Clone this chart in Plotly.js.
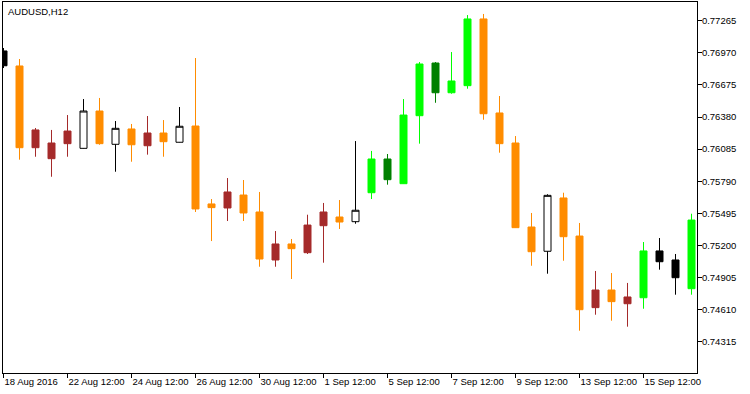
<!DOCTYPE html>
<html><head><meta charset="utf-8">
<script src="https://cdn.plot.ly/plotly-3.0.1.min.js"></script>
<style>html,body{margin:0;padding:0;background:#fff}#chart{width:750px;height:394px}</style>
</head><body><div id="chart"></div>
<script>
// AUDUSD H12 candles, index 0..43
const opens  = [0.76987,0.76849,0.76098,0.75997,0.76135,0.76092,0.76435,0.76129,0.76270,0.76116,
                0.76233,0.76148,0.76297,0.75581,0.75544,0.75663,0.75507,0.75066,0.75213,0.75133,
                0.75381,0.75461,0.75418,0.75684,0.75994,0.75767,0.76392,0.76876,0.76603,0.76668,
                0.77281,0.76417,0.76141,0.75369,0.75146,0.75636,0.75286,0.74628,0.74790,0.74664,
                0.74719,0.75149,0.75066,0.74802];
const highs  = [0.77014,0.76913,0.76279,0.76261,0.76398,0.76545,0.76555,0.76343,0.76316,0.76389,
                0.76352,0.76472,0.76922,0.75626,0.75819,0.75801,0.75691,0.75332,0.75259,0.75482,
                0.75590,0.75617,0.76159,0.76068,0.76040,0.76545,0.76885,0.76885,0.76977,0.77317,
                0.77327,0.76573,0.76205,0.75498,0.75670,0.75684,0.75406,0.74965,0.74946,0.74855,
                0.75231,0.75268,0.75121,0.75491];
const lows   = [0.76830,0.75988,0.76015,0.75831,0.76015,0.76090,0.76125,0.75877,0.75969,0.76034,
                0.76015,0.76146,0.75507,0.75240,0.75424,0.75424,0.75004,0.75004,0.74891,0.75121,
                0.75041,0.75351,0.75399,0.75626,0.75758,0.75765,0.76135,0.76511,0.76594,0.76640,
                0.76355,0.76052,0.75360,0.75013,0.74940,0.75059,0.74416,0.74563,0.74508,0.74453,
                0.74618,0.74977,0.74747,0.74747];
const closes = [0.76851,0.76098,0.76261,0.76141,0.76251,0.76435,0.76135,0.76276,0.76125,0.76233,
                0.76153,0.76295,0.75535,0.75547,0.75691,0.75498,0.75075,0.75213,0.75170,0.75387,
                0.75507,0.75415,0.75523,0.75994,0.75804,0.76398,0.76867,0.76603,0.76711,0.77281,
                0.76410,0.76135,0.75363,0.75142,0.75660,0.75280,0.74609,0.74790,0.74683,0.74726,
                0.75149,0.75050,0.74903,0.75433];
// candle state: trend + direction
const kinds = ['bearFlat','bearDown','bullDown','bullDown','bullDown','bullFlat','bearDown','bullFlat','bearDown','bullDown',
               'bearDown','bullFlat','bearDown','bearDown','bullDown','bearDown','bearDown','bullDown','bearDown','bullDown',
               'bullDown','bearDown','bullFlat','bullUp','bearUp','bullUp','bullUp','bearUp','bullUp','bullUp',
               'bearDown','bearDown','bearDown','bearDown','bullFlat','bearDown','bearDown','bullDown','bearDown','bullDown',
               'bullUp','bearFlat','bearFlat','bullUp'];
const tickIdx  = [0,4,8,12,16,20,24,28,32,36,40];
const tickText = ['18 Aug 2016','22 Aug 12:00','24 Aug 12:00','26 Aug 12:00','30 Aug 12:00','1 Sep 12:00',
                  '5 Sep 12:00','7 Sep 12:00','9 Sep 12:00','13 Sep 12:00','15 Sep 12:00'];
const priceTicks = [0.74315,0.74610,0.74905,0.75200,0.75495,0.75790,0.76085,0.76380,0.76675,0.76970,0.77265];
const symbolTitle = 'AUDUSD,H12';

const styles = {
  bearDown: {fill:'#FF8C00', line:'#FF8C00'},
  bullDown: {fill:'#A52A2A', line:'#A52A2A'},
  bullUp:   {fill:'#00FF00', line:'#00FF00'},
  bearUp:   {fill:'#008000', line:'#008000'},
  bullFlat: {fill:'#FFFFFF', line:'#000000'},
  bearFlat: {fill:'#000000', line:'#000000'}
};

const traces = Object.keys(styles).map(k => {
  const idx = kinds.map((v,i)=>v===k?i:-1).filter(i=>i>=0);
  const s = styles[k];
  return {
    type:'candlestick',
    x: idx,
    open: idx.map(i=>opens[i]),
    high: idx.map(i=>highs[i]),
    low: idx.map(i=>lows[i]),
    close: idx.map(i=>closes[i]),
    increasing:{fillcolor:s.fill, line:{color:s.line, width:1}},
    decreasing:{fillcolor:s.fill, line:{color:s.line, width:1}},
    whiskerwidth:0,
    hoverinfo:'skip',
    showlegend:false
  };
});

const font = {family:'"Liberation Sans", Arial, sans-serif', size:9.5, color:'#000'};
const layout = {
  width:750, height:394,
  margin:{l:3, r:53, t:2, b:21, pad:0},
  paper_bgcolor:'#fff', plot_bgcolor:'#fff',
  font: font,
  showlegend:false,
  boxmode:'overlay',
  boxgap:0.375,
  xaxis:{
    range:[-0.03125, 43.34375],
    rangeslider:{visible:false},
    showgrid:false, zeroline:false,
    showline:true, mirror:true, linecolor:'#000', linewidth:1,
    ticks:'outside', ticklen:4, tickcolor:'#000', tickwidth:1,
    tickmode:'array', tickvals:tickIdx, ticktext:tickText,
    tickangle:0,
    ticklabelposition:'outside right',
    tickfont:font, fixedrange:true
  },
  yaxis:{
    side:'right',
    range:[0.740273, 0.774369],
    showgrid:false, zeroline:false,
    showline:true, mirror:true, linecolor:'#000', linewidth:1,
    ticks:'outside', ticklen:4, tickcolor:'#000', tickwidth:1,
    tickmode:'array', tickvals:priceTicks, ticktext:priceTicks.map(v=>v.toFixed(5)),
    ticklabelstandoff:-2,
    tickfont:font, fixedrange:true
  },
  annotations:[{
    text:symbolTitle, xref:'paper', yref:'paper', x:0, y:1,
    xanchor:'left', yanchor:'top', xshift:3, yshift:-2, showarrow:false, font:font
  }]
};

Plotly.newPlot('chart', traces, layout, {staticPlot:true, displayModeBar:false});
</script>
</body></html>
